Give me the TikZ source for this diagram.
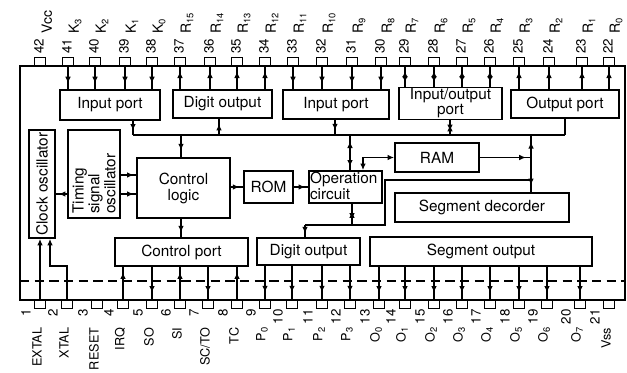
\documentclass[tikz,border=0pt]{standalone}
\usepackage{fontspec}
\setmainfont{TeX Gyre Heros}
\usetikzlibrary{arrows.meta,decorations.markings}
\newcommand\pinsub[1]{\raisebox{-0.35ex}{\fontsize{7}{8}\selectfont #1}}
\tikzset{
  fwd/.style={postaction={decorate,decoration={markings,mark=at position #1 with {\arrow{Latex[length=5pt,width=4.2pt]}}}}},
  bwd/.style={postaction={decorate,decoration={markings,mark=at position #1 with {\arrowreversed{Latex[length=5pt,width=4.2pt]}}}}},
  blk/.style={draw, line width=1.2pt, inner sep=1pt, font=\fontsize{11.5}{12}\selectfont, align=center},
  pin/.style={draw, line width=1.1pt, minimum width=8.25pt, minimum height=6.5pt, inner sep=0pt, fill=white},
  wire/.style={line width=1.15pt},
  endtip/.style={-{Latex[length=5pt,width=4.2pt]}},
  bothtip/.style={{Latex[length=5pt,width=4.2pt]}-{Latex[length=5pt,width=4.2pt]}},
  numtxt/.style={rotate=90, inner sep=0pt, font=\fontsize{10}{11}\selectfont},
  labtxt/.style={rotate=90, inner sep=0pt, font=\fontsize{10.5}{11}\selectfont},
  blabtxt/.style={rotate=90, inner sep=0pt, font=\fontsize{9.5}{11}\selectfont},
  boxtxt/.style={inner sep=0pt, font=\fontsize{11.5}{10.5}\selectfont},
}
\begin{document}
\begin{tikzpicture}[x=0.75pt, y=-0.75pt]
\clip (0,0) rectangle (627,372);
\useasboundingbox (0,0) rectangle (627,372);

% chip outline
\draw[line width=1.3pt] (20,66) rectangle (625,300);

% blocks
\node[blk, minimum width=75pt, minimum height=22.5pt] (ip1) at (110,105) {Input port};
\node[blk, minimum width=74.25pt, minimum height=21pt] (dout1) at (222.5,104) {Digit output};
\node[blk, minimum width=79.5pt, minimum height=21.75pt] (ip2) at (336,104.5) {Input port};
\node[blk, minimum width=77.25pt, minimum height=21.75pt, font=\fontsize{11.5}{9.5}\selectfont] (iop) at (450.5,103.5) {Input/output\\port};
\node[blk, minimum width=81pt, minimum height=21pt] (op) at (565,104) {Output port};
\node[blk, minimum width=19.5pt, minimum height=81pt] (clk) at (42,184) {};
\node[blk, minimum width=39pt, minimum height=66pt] (tim) at (94,174) {};
\node[blk, minimum width=69.75pt, minimum height=45pt] (ctl) at (183.5,188) {Control\\logic};
\node[blk, minimum width=36.75pt, minimum height=24pt] (rom) at (268.5,187) {ROM};
\node[blk, minimum width=54.75pt, minimum height=24pt] (opc) at (345.5,187) {};
\node[blk, minimum width=63pt, minimum height=21.75pt] (ram) at (437,157.5) {RAM};
\node[blk, minimum width=130.5pt, minimum height=21.75pt] (seg) at (482,207.5) {Segment decorder};
\node[blk, minimum width=99.75pt, minimum height=21pt] (cport) at (181.5,252) {Control port};
\node[blk, minimum width=77.25pt, minimum height=20.25pt] (dout2) at (308.5,251.5) {Digit output};
\node[blk, minimum width=166.5pt, minimum height=21.75pt] (sout) at (481,251.5) {Segment output};

\node[boxtxt, rotate=90] (clktxt) at (clk.center) {Clock oscillator};
\node[boxtxt, rotate=90, anchor=west, align=left] (timtxt) at (94,214) {Timing\\signal\\oscillator};
\node[boxtxt, anchor=north west, align=left, inner sep=1.2pt] (opctxt) at (opc.north west) {Operation\\circuit};

% top pins
\foreach \n/\x/\l in {42/40/Vcc,41/68/K\pinsub{3},40/95/K\pinsub{2},39/125/K\pinsub{1},38/152/K\pinsub{0},
  37/180/R\pinsub{15},36/210/R\pinsub{14},35/237/R\pinsub{13},34/265/R\pinsub{12},33/293/R\pinsub{11},
  32/322/R\pinsub{10},31/352/R\pinsub{9},30/381/R\pinsub{8},29/405/R\pinsub{7},28/434/R\pinsub{6},
  27/462/R\pinsub{5},26/490/R\pinsub{4},25/519/R\pinsub{3},24/549/R\pinsub{2},23/582/R\pinsub{1},22/609/R\pinsub{0}}{
  \node[pin] (t\n) at (\x,61.8) {};
  \node[numtxt, anchor=west] (tn\n) at (\x-1,54) {\n};
  \node[labtxt, anchor=west] (tl\n) at (\x+7,34) {\l};
}

% bottom pins
\foreach \n/\x/\l in {1/40/EXTAL,2/67/XTAL,3/97/RESET,4/123/IRQ,5/152/SO,6/180/SI,7/208/{SC/TO},8/237/TC,
  9/265/P\pinsub{0},10/292/P\pinsub{1},11/322/P\pinsub{2},12/350/P\pinsub{3},
  13/379/O\pinsub{0},14/405/O\pinsub{1},15/434/O\pinsub{2},16/462/O\pinsub{3},
  17/490/O\pinsub{4},18/519/O\pinsub{5},19/547/O\pinsub{6},20/580/O\pinsub{7},21/609/Vss}{
  \node[pin] (p\n) at (\x,304.2) {};
  \node[numtxt, anchor=east] (pn\n) at (\x-14,309) {\n};
  \node[blabtxt, anchor=east] (pl\n) at (\x-3,327.5) {\l};
}

% top pin connections
\foreach \n in {41,40,39,38} \draw[wire,fwd=0.74] (t\n.south) -- (t\n.south |- ip1.north);
\foreach \n in {37,36,35,34} \draw[wire,bwd=0.2] (t\n.south) -- (t\n.south |- dout1.north);
\foreach \n in {33,32,31,30} \draw[wire,fwd=0.74] (t\n.south) -- (t\n.south |- ip2.north);
\foreach \n in {29,28,27,26} \draw[wire,bwd=0.2,fwd=0.8] (t\n.south) -- (t\n.south |- iop.north);
\foreach \n in {25,24,23,22} \draw[wire,bwd=0.2] (t\n.south) -- (t\n.south |- op.north);

% internal bus
\coordinate (bL) at (133,135);
\coordinate (bR) at (565,135);
\coordinate (bD) at (219,135);
\coordinate (bC) at (181,135);
\coordinate (bI) at (335,135);
\coordinate (bO) at (350,135);
\coordinate (bIO) at (450,135);
\coordinate (bV) at (531,135);
\draw[wire] (bL) -- (bR);
\draw[wire,fwd=0.7] (bL |- ip1.south) -- (bL);
\draw[wire,fwd=0.7] (bD) -- (bD |- dout1.south);
\draw[wire,fwd=0.7] (bI |- ip2.south) -- (bI);
\draw[wire,fwd=0.75,bwd=0.3] (bIO |- iop.south) -- (bIO);
\draw[wire] (bR |- op.south) -- (bR);
\draw[wire,fwd=0.7] (bC) -- (bC |- ctl.north);
\draw[wire,bwd=0.18,fwd=0.9] (bO) -- (bO |- opc.north);
\draw[wire,bwd=0.12,fwd=0.88] (bV) -- (bV |- seg.north);
\draw[wire,fwd=0.9] (ram.east) -- (ram.east -| bV);
\coordinate (r1) at (363,157.5);
\draw[wire,bothtip] (ram.west) -- (r1) -- (r1 |- opc.north);

% operation circuit data path
\coordinate (c1) at (385,180);
\coordinate (c2) at (385,225);
\coordinate (c3) at (305,225);
\coordinate (c4) at (352,225);
\draw[wire] (c1 -| bV) -- (c1) -- (c2) -- (c3);
\draw[wire,fwd=0.7] (c3) -- (c3 |- dout2.north);
\draw[wire,bwd=0.35,fwd=0.75] (c4 |- opc.south) -- (c4);

% control flow
\draw[wire,fwd=0.75] (ctl.south -| bC) -- (bC |- cport.north);
\draw[wire,fwd=0.7] (ctl.east |- rom.west) -- (rom.west);
\draw[wire,fwd=0.8] (rom.east) -- (rom.east -| opc.west);
\coordinate (ty1) at (120,175);
\coordinate (ty2) at (120,194);
\draw[wire,fwd=0.85] (ty1) -- (ty1 -| ctl.west);
\draw[wire,fwd=0.85] (ty2) -- (ty2 -| ctl.west);
\draw[wire,bwd=0.25] (clk.east |- ty2) -- (tim.west |- ty2);

% clock pins
\coordinate (k1) at (67,266);
\coordinate (k2) at (50,266);
\draw[wire,endtip] (p1.north) -- (p1.north |- clk.south);
\draw[wire,endtip] (p2.north) -- (k1) -- (k2) -- (k2 |- clk.south);

% bottom pin connections
\foreach \n in {4,6,8} \draw[wire,bwd=0.17] (p\n.north |- cport.south) -- (p\n.north);
\foreach \n in {5,7} \draw[wire,fwd=0.8] (p\n.north |- cport.south) -- (p\n.north);
\foreach \n in {9,10,11,12} \draw[wire,fwd=0.8] (p\n.north |- dout2.south) -- (p\n.north);
\foreach \n in {13,...,20} \draw[wire,fwd=0.8] (p\n.north |- sout.south) -- (p\n.north);

% dashed boundary
\draw[line width=1.2pt, dash pattern=on 7pt off 4pt] (20,281) -- (625,281);
\end{tikzpicture}
\end{document}
